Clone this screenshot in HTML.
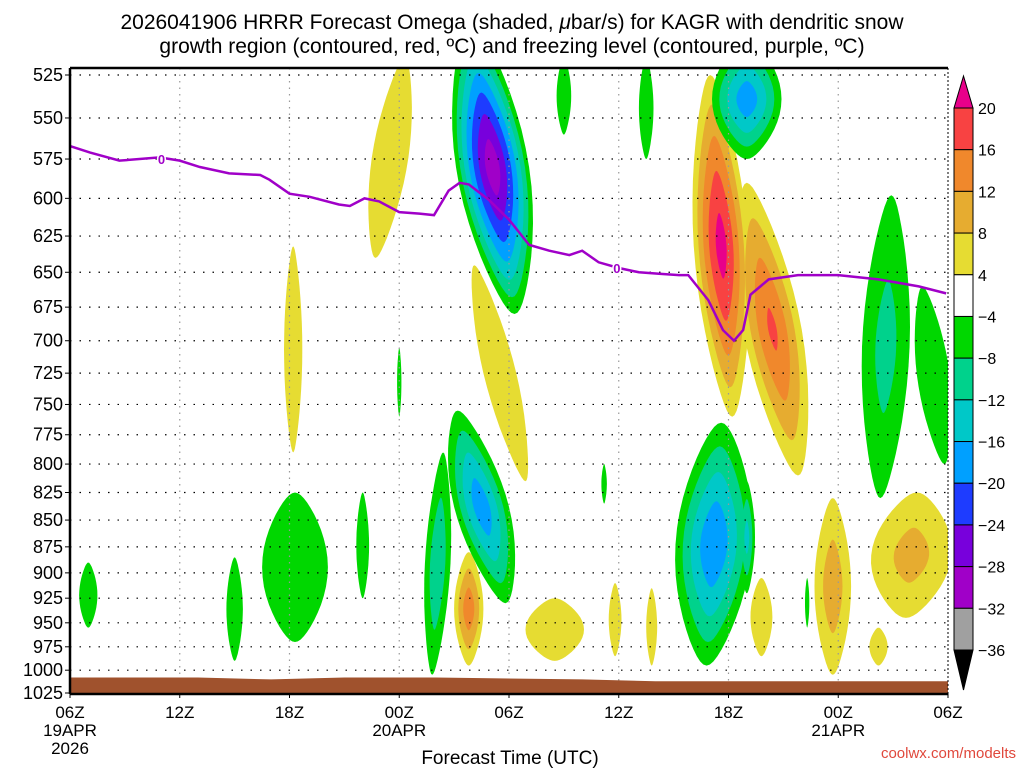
<!DOCTYPE html>
<html><head><meta charset="utf-8"><style>
body{margin:0;background:#fff;}
svg text{font-family:"Liberation Sans","DejaVu Sans",sans-serif;}
</style></head><body>
<svg id="chart" width="1024" height="768" viewBox="0 0 1024 768" xmlns="http://www.w3.org/2000/svg">
<g>
<text x="512" y="29" font-size="21" text-anchor="middle">2026041906 HRRR Forecast Omega (shaded, <tspan font-style="italic">μ</tspan>bar/s) for KAGR with dendritic snow</text>
<text x="512" y="53" font-size="21" text-anchor="middle">growth region (contoured, red, ºC) and freezing level (contoured, purple, ºC)</text>
</g>
<g id="fills"></g>
<g id="grid"></g>
<g id="ground"></g>
<g id="frz"></g>
<g id="axes"></g>
<g id="cbar"></g>
<text x="510" y="764" font-size="19" text-anchor="middle">Forecast Time (UTC)</text>
<text x="1016" y="758" font-size="15" fill="#e0483c" text-anchor="end">coolwx.com/modelts</text>
</svg>
<script>
// ---- data ----
const pTicks=[525,550,575,600,625,650,675,700,725,750,775,800,825,850,875,900,925,950,975,1000,1025];
const tTicks=[0,6,12,18,24,30,36,42,48];
const tLabels=["06Z","12Z","18Z","00Z","06Z","12Z","18Z","00Z","06Z"];
const tDates=["19APR\n2026","","","20APR","","","","21APR",""];
const levels=[20,16,12,8,4,-4,-8,-12,-16,-20,-24,-28,-32,-36];
const colors=["#e8008a","#f84242","#f0882c","#e6ac30","#e6dc32","#ffffff","#00d700","#00d28c","#00c8c8","#00a0ff","#1e3cff","#7800dc","#a000c8","#a0a0a0","#000000"];
// blobs: center time (h), top pressure, bottom pressure, half-width (h), tilt (h), peak omega
const blobT=[17.5,12.2,23.5,21.8,26.5,29.8,31.8,35.6,38.4,41.7,37.8,46,44.2,
             23.1,27,31.5,37,44.6,47.2,22.5,20.1,12.3,9,1,16,18,35.2,37,29.2,40.3];
const blobTop=[515,632,645,880,925,910,915,525,590,830,905,825,955,
               495,515,515,505,598,660,755,790,825,885,890,825,705,765,815,800,905];
const blobBot=[640,790,815,995,990,985,995,760,810,1005,985,945,995,
               680,560,575,575,830,800,930,1005,970,990,955,925,760,995,920,835,955];
const blobHW=[1.0,0.5,0.9,0.8,1.6,0.35,0.3,1.5,1.6,1.0,0.6,2.2,0.5,
              2.0,0.4,0.4,1.9,1.3,0.9,1.5,0.7,1.8,0.45,0.5,0.35,0.12,2.1,0.45,0.15,0.12];
const blobTilt=[0.8,0,-1.4,0,0,0,0,-0.6,-1.4,0,0,0.3,0,
                -1.2,0,0,0,0.3,-0.6,-1.3,0.3,0,0,0,0,0,0.4,0,0,0];
const blobVal=[5,5,5,15,5,5,5,22,17,11,5,10,5,
               -31,-6,-6,-19,-10,-6,-19,-12,-6,-6,-6,-6,-5,-20,-14,-5,-5];
// freezing level
const frzT=[0,1.1,2.7,4.9,6,7.1,8.7,10.4,10.9,12,13.1,14.7,15.3,16.1,16.9,18,19.1,19.9,20.7,21.3,21.8,22.9,24,25.1,26.2,27.3,28,28.9,30,31.1,32.2,33.3,33.8,34.9,35.7,36.3,36.8,37.2,38.2,39.8,42,44.2,46.4,47.9];
const frzP=[567,571,576,574,576,580,584,585,588,597,599,604,605,600,602,609,610,611,595,590,591,601,614,631,635,638,635,643,647,650,651,652,652,670,692,700,692,666,655,652,652,655,660,665];
const frzLabelT=[5,29.9];
const frzLabelP=[575,647];
// surface
const sfcT=[0,7,11,15,20,28,32,48];
const sfcP=[1008,1008,1010,1008,1008,1010,1012,1012];
// ---- axes ----
const X0=70,X1=948,Y0=75,Y1=693,PT=525,PB=1025,YT=68;
const NS="http://www.w3.org/2000/svg";
const xs=t=>X0+(t/48)*(X1-X0);
const ys=p=>Y0+(Math.log(p/PT)/Math.log(PB/PT))*(Y1-Y0);
function mk(tag,attrs,parent){const e=document.createElementNS(NS,tag);for(const k in attrs)e.setAttribute(k,attrs[k]);parent.appendChild(e);return e;}
const fills=document.getElementById('fills');
const clip=mk('clipPath',{id:'pc'},document.getElementById('chart'));
mk('rect',{x:X0,y:YT,width:X1-X0,height:Y1-YT},clip);
fills.setAttribute('clip-path','url(#pc)');
function colorFor(L){
  const i=levels.indexOf(L);
  return L>0?colors[i]:colors[i+1];
}
const posL=[4,8,12,16,20], negL=[-4,-8,-12,-16,-20,-24,-28,-32,-36];
function drawLevel(L){
  for(let b=0;b<blobT.length;b++){
    const v=blobVal[b];
    if(L>0?!(v>L):!(v<L))continue;
    const s=Math.pow((Math.abs(v)-Math.abs(L))/(Math.abs(v)-4+0.001),0.75);
    const yt=ys(blobTop[b]),yb=ys(blobBot[b]);
    const cy=(yt+yb)/2,hh=(yb-yt)/2*s;
    const cx=xs(blobT[b]),hw=(xs(blobHW[b])-X0)*s,tl=(xs(blobTilt[b])-X0)*s;
    let pts=[];
    for(let k=0;k<48;k++){const a=k/48*2*Math.PI;const sn=Math.sin(a),cs=Math.cos(a);
      const w=hw*cs*(1-0.35*sn*sn);
      pts.push((cx+w-tl*sn).toFixed(1)+","+(cy+hh*sn).toFixed(1));}
    const poly=mk('polygon',{points:pts.join(" "),fill:colorFor(L)},fills);
    
    
  }
}
posL.forEach(drawLevel); negL.forEach(drawLevel);
// grid
const grid=document.getElementById('grid');
pTicks.forEach(p=>{if(p===525||p===1025)return;const l=mk('line',{x1:X0,x2:X1,y1:ys(p),y2:ys(p),stroke:'#000','stroke-width':1.2,'stroke-dasharray':'1.5 8'},grid);
});
tTicks.forEach(t=>{if(t===0||t===48)return;const l=mk('line',{x1:xs(t),x2:xs(t),y1:YT,y2:Y1,stroke:'#999','stroke-width':1.2,'stroke-dasharray':'1.5 5'},grid);
});
{const l=mk('line',{x1:X0,x2:X1,y1:ys(525),y2:ys(525),stroke:'#000','stroke-width':1.2,'stroke-dasharray':'1.5 8'},grid);}
// ground
let gp=[];sfcT.forEach((t,i)=>gp.push(xs(t)+","+ys(sfcP[i])));
gp.push(X1+","+Y1,X0+","+Y1);
const gr=mk('polygon',{points:gp.join(" "),fill:'#a0522d'},document.getElementById('ground'));

// freezing line
const frz=document.getElementById('frz');
const fl=mk('polyline',{points:frzT.map((t,i)=>xs(t)+","+ys(frzP[i])).join(" "),fill:'none',stroke:'#a000c8','stroke-width':2.5},frz);

frzLabelT.forEach((t,i)=>{const tx=mk('text',{x:xs(t),y:ys(frzLabelP[i])+5,'font-size':13,'font-weight':'bold','text-anchor':'middle',fill:'#a000c8',stroke:'#fff','stroke-width':3,'paint-order':'stroke'},frz);tx.textContent='0';
});
// axes
const ax=document.getElementById('axes');
mk('line',{x1:X0,x2:X0,y1:YT,y2:Y1+1,stroke:'#000','stroke-width':2.5},ax);
mk('line',{x1:X0,x2:X1,y1:Y1+1,y2:Y1+1,stroke:'#000','stroke-width':2.5},ax);
mk('line',{x1:X0,x2:X1,y1:YT,y2:YT,stroke:'#000','stroke-width':2.5},ax);
mk('line',{x1:X1,x2:X1,y1:YT,y2:Y1,stroke:'#000','stroke-width':1,'stroke-dasharray':'2 2'},ax);
pTicks.forEach(p=>{mk('line',{x1:X0-5,x2:X0,y1:ys(p),y2:ys(p),stroke:'#000'},ax);
const tx=mk('text',{x:X0-7,y:ys(p)+6,'font-size':18,'text-anchor':'end'},ax);tx.textContent=p;
});
tTicks.forEach((t,i)=>{mk('line',{x1:xs(t),x2:xs(t),y1:Y1,y2:Y1+5,stroke:'#000'},ax);
const tx=mk('text',{x:xs(t),y:718,'font-size':17,'text-anchor':'middle'},ax);tx.textContent=tLabels[i];

tDates[i].split("\n").forEach((s,j)=>{if(!s)return;const d=mk('text',{x:xs(t),y:736+j*18,'font-size':17,'text-anchor':'middle'},ax);d.textContent=s;
});});
// colorbar
const cb=document.getElementById('cbar');
const CX=954,CW=19,CT=108,CB=650,bh=(CB-CT)/(levels.length-1);
const up=mk('polygon',{points:`${CX},${CT} ${CX+CW/2},76 ${CX+CW},${CT}`,fill:colors[0],stroke:'#000'},cb);

for(let i=0;i<levels.length-1;i++){const r=mk('rect',{x:CX,y:CT+i*bh,width:CW,height:bh,fill:colors[i+1],stroke:'#000'},cb);
}
const dn=mk('polygon',{points:`${CX},${CB} ${CX+CW/2},690 ${CX+CW},${CB}`,fill:'#000',stroke:'#000'},cb);

levels.forEach((L,i)=>{const tx=mk('text',{x:978,y:CT+i*bh+6,'font-size':16},cb);tx.textContent=L<0?'\u2212'+(-L):L;
});
</script>
</body></html>
